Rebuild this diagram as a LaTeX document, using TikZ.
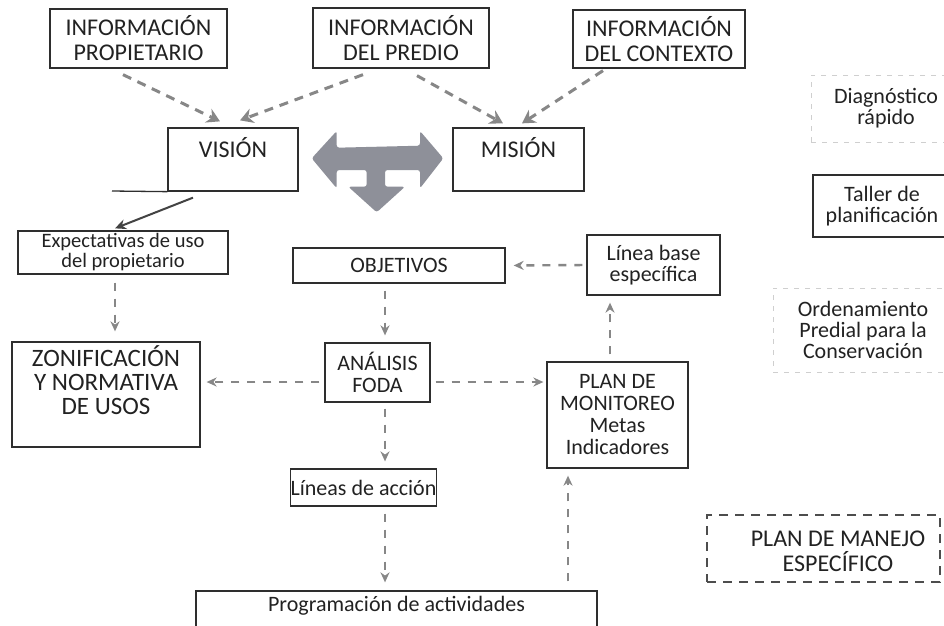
\documentclass[tikz,border=0pt]{standalone}
\usepackage{fontspec}
\setmainfont{Carlito}
\usetikzlibrary{arrows.meta}
\definecolor{boxc}{HTML}{2E2E2E}
\definecolor{txt}{HTML}{222222}
\definecolor{arrc}{HTML}{878787}
\definecolor{bigc}{HTML}{8E9099}
\definecolor{faint}{HTML}{CFCFCF}
\begin{document}
\begin{tikzpicture}[x=1pt,y=-1pt,
  box/.style={draw=boxc, line width=1.3pt, inner sep=0pt, align=center, text=txt},
  fbox/.style={draw=faint, line width=1pt, dash pattern=on 5pt off 6pt, inner sep=0pt, align=center, text=txt},
  dbox/.style={draw=boxc!85, line width=1.3pt, dash pattern=on 9pt off 7pt, inner sep=0pt},
  capf/.style={font=\fontsize{24}{25}\selectfont, text=txt, align=center},
  midf/.style={font=\fontsize{22}{22}\selectfont, text=txt, align=center},
  lowf/.style={font=\fontsize{22}{21}\selectfont, text=txt, align=center},
  toparr/.style={draw=arrc, line width=3pt, dash pattern=on 9pt off 7pt, -{Stealth[length=13pt,width=15pt]}},
  midarr/.style={draw=arrc, line width=2.4pt, dash pattern=on 8pt off 8pt, -{Stealth[length=10pt,width=9pt]}},
  solarr/.style={draw=boxc!90, line width=2pt, -{Stealth[length=11pt,width=10pt]}}
]
\useasboundingbox (0,0) rectangle (944,625);
\fill[white] (0,0) rectangle (944,625);
\clip (0,0) rectangle (944,625);

% top information boxes
\node[box, capf, minimum width=177pt, minimum height=59pt] (ip) at (138.5,38.5) {INFORMACIÓN\\PROPIETARIO};
\node[box, capf, minimum width=176pt, minimum height=60pt] (ipr) at (401,38) {INFORMACIÓN\\DEL PREDIO};
\node[box, capf, minimum width=172pt, minimum height=58pt] (ic) at (659,39) {INFORMACIÓN\\DEL CONTEXTO};

% vision / mision
\node[box, minimum width=130pt, minimum height=63pt] (vis) at (233,159.5) {};
\node[capf] (vist) at ([yshift=12pt]vis.center) {VISIÓN};
\coordinate (visl) at (112,191);
\draw[boxc, line width=1.3pt] (visl) -- (vis.south west);
\node[box, minimum width=131pt, minimum height=63pt] (mis) at (518.5,159.5) {};
\node[capf] (mist) at ([yshift=12pt]mis.center) {MISIÓN};

% big three-way arrow
\fill[bigc, rounded corners=2.5pt] (311.7,158.3) -- (336.7,131) -- (336.7,147.7) -- (420,145.7) -- (420,131) -- (443.3,158.3) -- (420,188.3) -- (420,170) -- (385,170) -- (385,186.7) -- (405,186.7) -- (376.7,212.3) -- (348.3,186.7) -- (366.7,186.7) -- (366.7,170) -- (336.7,170) -- (336.7,188.3) -- cycle;

% middle boxes
\node[box, font=\fontsize{20.5}{20}\selectfont, minimum width=210pt, minimum height=43pt] (exp) at (123,252.5) {Expectativas de uso\\del propietario};
\node[box, midf, minimum width=212pt, minimum height=35pt] (obj) at (399,265.5) {OBJETIVOS};
\node[box, lowf, minimum width=133pt, minimum height=60pt] (lb) at (653.5,265) {Línea base\\específica};
\node[box, midf, minimum width=105pt, minimum height=59pt] (foda) at (377.5,372.5) {ANÁLISIS\\FODA};
\node[box, minimum width=188pt, minimum height=105pt] (zon) at (106,394.5) {};
\node[font=\fontsize{25}{24}\selectfont, text=txt, align=center] (zont) at ([yshift=14pt]zon.center) {ZONIFICACIÓN\\Y NORMATIVA\\DE USOS};
\node[box, midf, minimum width=141pt, minimum height=106pt] (pm) at (617.5,415) {PLAN DE\\MONITOREO\\Metas\\Indicadores};
\node[box, lowf, minimum width=135pt, minimum height=37pt] (la) at (363.5,487.5) {Líneas de acción};
\node[box, lowf, minimum width=401pt, minimum height=44pt] (prog) at (396.5,613) {};
\node[lowf] (progt) at (396.5,606) {Programación de actividades};

% right side legend boxes
\node[fbox, lowf, minimum width=150pt, minimum height=67pt] (diag) at (886,108.5) {Diagnóstico\\rápido};
\node[box, lowf, minimum width=138pt, minimum height=62pt] (tal) at (882,206) {Taller de\\planificación};
\node[fbox, lowf, minimum width=180pt, minimum height=84pt] (ord) at (863,330) {Ordenamiento\\Predial para la\\Conservación};
\node[dbox, minimum width=233pt, minimum height=67pt] (pme) at (823.5,548.5) {};
\node[capf] (pmet) at (838,551) {PLAN DE MANEJO\\ESPECÍFICO};

% top dashed arrows
\draw[toparr] ([shift={(-15.5,6)}]ip.south) -- ([shift={(-13,-6)}]vis.north);
\draw[toparr] ([shift={(-38,6)}]ipr.south) -- ([shift={(7,-7)}]vis.north);
\draw[toparr] ([shift={(16,7)}]ipr.south) -- ([shift={(-15.5,-4)}]mis.north);
\draw[toparr] ([shift={(-56,2)}]ic.south) -- ([shift={(3.5,-4)}]mis.north);

% solid arrow
\draw[solarr] ([shift={(-40,6)}]vis.south) -- ([shift={(-8,-2)}]exp.north);

% column / row helpers
\coordinate (colx) at (385,0);
\coordinate (colm) at (610,0);
\coordinate (colp) at (568,0);
\coordinate (colz) at (115,0);
\coordinate (rowy) at (0,382);

\draw[midarr, shorten <=8pt, shorten >=10pt] (exp.south -| colz) -- (zon.north -| colz);
\draw[midarr, shorten <=7pt, shorten >=7pt] (obj.south -| colx) -- (foda.north -| colx);
\draw[midarr, shorten <=4pt, shorten >=8pt] (lb.west) -- (obj.east);
\draw[midarr, shorten <=5pt, shorten >=6pt] (foda.west |- rowy) -- (zon.east |- rowy);
\draw[midarr, shorten <=5pt, shorten >=3pt] (foda.east |- rowy) -- (pm.west |- rowy);
\draw[midarr, shorten <=7pt, shorten >=7pt] (pm.north -| colm) -- (lb.south -| colm);
\draw[midarr, shorten <=6pt, shorten >=7pt] (foda.south -| colx) -- (la.north -| colx);
\draw[midarr, shorten <=7pt, shorten >=8pt] (la.south -| colx) -- (prog.north -| colx);
\draw[midarr, shorten <=9pt, shorten >=7pt] (prog.north -| colp) -- (pm.south -| colp);
\end{tikzpicture}
\end{document}
